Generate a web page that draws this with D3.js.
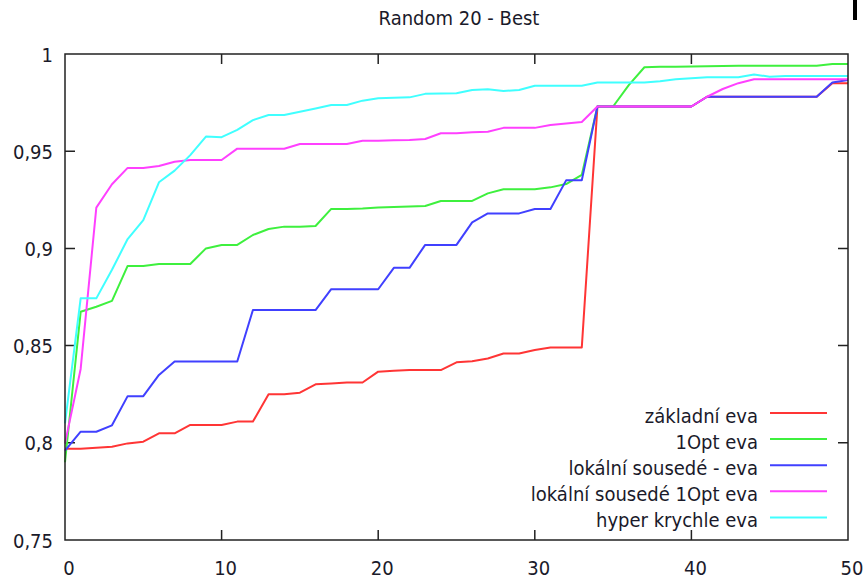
<!DOCTYPE html>
<html>
<head>
<meta charset="utf-8">
<script src="https://cdn.jsdelivr.net/npm/d3@7"></script>
<style>
  body { margin: 0; background: #fff; }
  text { font-family: 'DejaVu Sans Condensed', 'DejaVu Sans', sans-serif; font-stretch: condensed; fill: #1a1a2a; }
</style>
</head>
<body>
<script>
// data (generation 0..50)
const generations = d3.range(0, 51)
const yTicks = [0.75, 0.8, 0.85, 0.9, 0.95, 1]
const xTicks = [0, 10, 20, 30, 40, 50]

const zakladni = [0.797, 0.797, 0.7975, 0.798, 0.7997, 0.8006, 0.8049, 0.8049, 0.8092, 0.8092,
  0.8092, 0.8109, 0.8109, 0.825, 0.825, 0.8258, 0.8301, 0.8305, 0.831, 0.831,
  0.8366, 0.837, 0.8374, 0.8374, 0.8374, 0.8414, 0.842, 0.8434, 0.8459, 0.8459,
  0.8477, 0.849, 0.849, 0.849, 0.973, 0.973, 0.973, 0.973, 0.973, 0.973,
  0.973, 0.978, 0.978, 0.978, 0.978, 0.978, 0.978, 0.978, 0.978, 0.985, 0.985]
const opt1 = [0.790, 0.8674, 0.870, 0.873, 0.891, 0.891, 0.892, 0.892, 0.892, 0.900,
  0.9018, 0.9018, 0.9069, 0.910, 0.9112, 0.9112, 0.9115, 0.9203, 0.9203, 0.9205,
  0.921, 0.9213, 0.9215, 0.9218, 0.9244, 0.9244, 0.9244, 0.9283, 0.9304, 0.9304,
  0.9304, 0.9314, 0.9331, 0.9378, 0.973, 0.973, 0.984, 0.9932, 0.9934, 0.9935,
  0.9936, 0.9937, 0.9938, 0.9939, 0.994, 0.994, 0.994, 0.994, 0.994, 0.9949, 0.9949]
const lokalni = [0.796, 0.8057, 0.8057, 0.809, 0.824, 0.824, 0.8349, 0.8418, 0.8418, 0.8418,
  0.8418, 0.8418, 0.8683, 0.8683, 0.8683, 0.8683, 0.8683, 0.879, 0.879, 0.879,
  0.879, 0.890, 0.890, 0.9018, 0.9018, 0.9018, 0.9134, 0.918, 0.918, 0.918,
  0.9203, 0.9203, 0.935, 0.935, 0.973, 0.973, 0.973, 0.973, 0.973, 0.973,
  0.973, 0.978, 0.978, 0.978, 0.978, 0.978, 0.978, 0.978, 0.978, 0.9853, 0.9866]
const lokalni1Opt = [0.7997, 0.838, 0.921, 0.933, 0.9414, 0.9414, 0.9424, 0.9446, 0.9455, 0.9455,
  0.9455, 0.9513, 0.9513, 0.9513, 0.9513, 0.9537, 0.9537, 0.9537, 0.9537, 0.9554,
  0.9554, 0.9556, 0.9558, 0.9563, 0.9592, 0.9592, 0.9597, 0.960, 0.962, 0.962,
  0.962, 0.9635, 0.9643, 0.965, 0.973, 0.973, 0.973, 0.973, 0.973, 0.973,
  0.973, 0.978, 0.982, 0.985, 0.987, 0.987, 0.987, 0.987, 0.987, 0.987, 0.987]
const hyper = [0.81, 0.8743, 0.8743, 0.889, 0.9048, 0.9146, 0.934, 0.940, 0.948, 0.9575,
  0.9572, 0.961, 0.966, 0.9686, 0.9686, 0.9703, 0.972, 0.9738, 0.9738, 0.976,
  0.9772, 0.9775, 0.9777, 0.9795, 0.9797, 0.9798, 0.9815, 0.9819, 0.981, 0.9815,
  0.9837, 0.9837, 0.9837, 0.9837, 0.9853, 0.9853, 0.9853, 0.9853, 0.986, 0.987,
  0.9875, 0.988, 0.988, 0.988, 0.9895, 0.9883, 0.9887, 0.9887, 0.9887, 0.9887, 0.9887]

const seriesNames = ['základní eva', '1Opt eva', 'lokální sousedé - eva', 'lokální sousedé 1Opt eva', 'hyper krychle eva']
const seriesValues = [zakladni, opt1, lokalni, lokalni1Opt, hyper]
const seriesColors = ['#ff3535', '#3ef03e', '#4040ff', '#ff40ff', '#40ffff']

// set the dimensions and margins of the graph
const margin = {top: 54, right: 15, bottom: 39, left: 65},
    width = 863 - margin.left - margin.right,
    height = 579 - margin.top - margin.bottom

const x = d3.scaleLinear().domain([0, 50]).range([0, width])
const y = d3.scaleLinear().domain([0.75, 1]).range([height, 0])

const root = d3.select('body').append('svg')
    .attr('width', 863)
    .attr('height', 579)

const svg = root.append('g')
    .attr('transform', 'translate(' + margin.left + ',' + margin.top + ')')

const fontSize = '20px'

// title
root.append('text')
    .attr('x', 459)
    .attr('y', 25)
    .attr('text-anchor', 'middle')
    .style('font-size', fontSize)
    .text('Random 20 - Best')

// odd black mark in the top right corner of the reference
root.append('rect')
    .attr('x', 853).attr('y', 0)
    .attr('width', 4).attr('height', 20)
    .attr('fill', '#000')

const fmt = d => String(d).replace('.', ',')
const tickLen = 10

// y tick labels + inward ticks on both sides
svg.selectAll('.ylab')
    .data(yTicks)
    .enter().append('text')
    .attr('x', -12)
    .attr('y', d => y(d) + 7.5)
    .attr('text-anchor', 'end')
    .style('font-size', fontSize)
    .text(fmt)

const innerY = yTicks.slice(1, -1)
svg.selectAll('.ytick')
    .data(innerY)
    .enter().append('path')
    .attr('d', d => 'M0,' + y(d) + 'h' + tickLen + 'M' + width + ',' + y(d) + 'h' + (-tickLen))
    .attr('stroke', '#222')
    .attr('stroke-width', 1.5)

// x tick labels + inward ticks on top and bottom
svg.selectAll('.xlab')
    .data(xTicks)
    .enter().append('text')
    .attr('x', d => x(d) + 4)
    .attr('y', height + 35)
    .attr('text-anchor', 'middle')
    .style('font-size', fontSize)
    .text(d => d)

const innerX = xTicks.slice(1, -1)
svg.selectAll('.xtick')
    .data(innerX)
    .enter().append('path')
    .attr('d', d => 'M' + x(d) + ',' + height + 'v' + (-tickLen) + 'M' + x(d) + ',0v' + tickLen)
    .attr('stroke', '#222')
    .attr('stroke-width', 1.5)

// the lines
const line = d3.line()
    .x((d, i) => x(generations[i]))
    .y(d => y(d))

seriesValues.forEach((vals, k) => {
    svg.append('path')
        .datum(vals)
        .attr('fill', 'none')
        .attr('stroke', seriesColors[k])
        .attr('stroke-width', 2)
        .attr('stroke-linejoin', 'round')
        .attr('d', line)
})

// frame
svg.append('rect')
    .attr('width', width)
    .attr('height', height)
    .attr('fill', 'none')
    .attr('stroke', '#222')
    .attr('stroke-width', 1.5)

// legend
const legend = svg.append('g')
    .attr('transform', 'translate(0,' + (413 - margin.top) + ')')

seriesNames.forEach((name, k) => {
    const ly = k * 26.1
    legend.append('text')
        .attr('x', 758 - margin.left)
        .attr('y', ly + 9.5)
        .attr('text-anchor', 'end')
        .style('font-size', fontSize)
        .text(name)
    legend.append('line')
        .attr('x1', 770 - margin.left)
        .attr('x2', 827 - margin.left)
        .attr('y1', ly)
        .attr('y2', ly)
        .attr('stroke', seriesColors[k])
        .attr('stroke-width', 2)
})
</script>
</body>
</html>
